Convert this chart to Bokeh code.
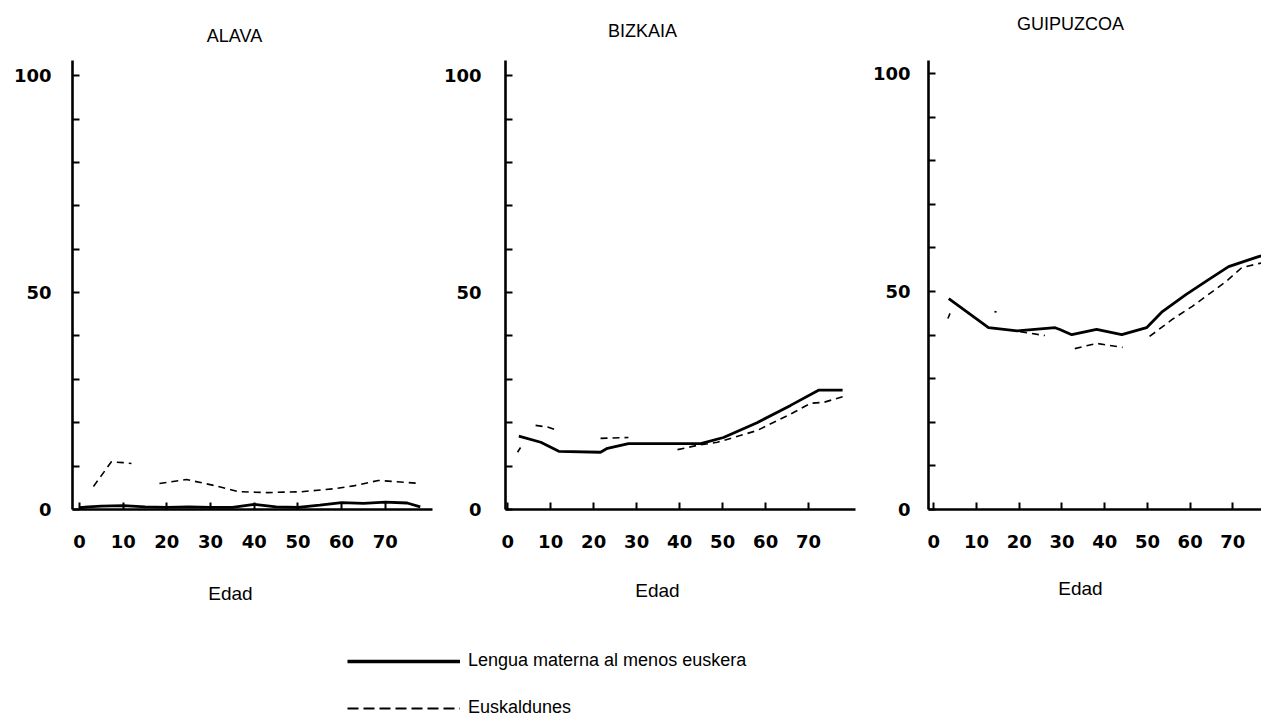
from bokeh.plotting import figure
from bokeh.layouts import row, column
from bokeh.models import FixedTicker, Label, Legend, LegendItem, Range1d
from bokeh.embed import file_html
from bokeh.resources import INLINE

NaN = float("nan")

panel_titles = ["ALAVA", "BIZKAIA", "GUIPUZCOA"]
x_label = "Edad"
legend_labels = ["Lengua materna al menos euskera", "Euskaldunes"]
x_ticks = [0, 10, 20, 30, 40, 50, 60, 70]
y_ticks = [0, 10, 20, 30, 40, 50, 60, 70, 80, 90, 100]
y_labelled = [0, 50, 100]

# ALAVA
alava_materna_x = [0, 2, 5, 10, 15, 20, 25, 30, 35, 40, 45, 50, 55, 60, 65, 70, 75, 78]
alava_materna_y = [0.4, 0.6, 0.8, 0.9, 0.6, 0.5, 0.6, 0.5, 0.5, 1.2, 0.6, 0.5, 1.0, 1.6, 1.4, 1.7, 1.5, 0.6]
alava_eusk_x = [3.2, 7.3, 10.0, 11.9, NaN, 18.3, 24.5, 31.0, 36.4, 43.0, 50.8, 58.4, 63.0, 68.4, 78.0]
alava_eusk_y = [5.3, 11.0, 10.8, 10.6, NaN, 6.0, 6.9, 5.5, 4.1, 3.9, 4.1, 4.8, 5.5, 6.7, 6.0]

# BIZKAIA
bizkaia_materna_x = [2.6, 7.7, 11.9, 21.6, 23.2, 28.1, 44.9, 50.2, 58.0, 65.8, 72.3, 77.9]
bizkaia_materna_y = [16.9, 15.5, 13.4, 13.2, 14.1, 15.2, 15.2, 16.6, 20.0, 24.0, 27.5, 27.5]
bizkaia_eusk_x = [2.3, 3.0, NaN, 6.5, 9.3, 11.6, NaN, 21.6, 28.1, NaN, 39.5, 44.2, 48.8, 58.0, 65.8, 70.5, 73.5, 77.9]
bizkaia_eusk_y = [13.2, 14.3, NaN, 19.4, 19.0, 18.2, NaN, 16.4, 16.6, NaN, 13.8, 14.8, 15.5, 18.2, 22.0, 24.5, 24.7, 26.0]

# GUIPUZCOA
guipuzcoa_materna_x = [3.5, 12.8, 19.5, 28.4, 29.5, 32.3, 38.1, 44.0, 49.8, 53.5, 59.0, 64.4, 69.0, 76.0, 78.0]
guipuzcoa_materna_y = [48.4, 41.7, 41.0, 41.7, 41.3, 40.1, 41.3, 40.1, 41.7, 45.4, 49.3, 52.8, 55.7, 58.0, 58.5]
guipuzcoa_eusk_x = [3.3, 3.8, NaN, 14.2, 14.7, NaN, 20.2, 26.0, NaN, 33.0, 38.1, 44.2, NaN, 50.5, 55.8, 60.5, 68.4, 72.1, 76.0, 78.0]
guipuzcoa_eusk_y = [43.8, 45.0, NaN, 45.4, 45.3, NaN, 40.8, 39.9, NaN, 36.9, 38.1, 37.2, NaN, 39.7, 43.6, 46.6, 52.3, 55.5, 56.4, 56.8]

series = [
    (alava_materna_x, alava_materna_y, alava_eusk_x, alava_eusk_y),
    (bizkaia_materna_x, bizkaia_materna_y, bizkaia_eusk_x, bizkaia_eusk_y),
    (guipuzcoa_materna_x, guipuzcoa_materna_y, guipuzcoa_eusk_x, guipuzcoa_eusk_y),
]

# page geometry (pixels)
W = 1261
HEAD_H = 60
PANEL_H = 499
FOOT_H = 160
BOTTOM = 50

specs = [
    dict(left=72, frame_w=360, right=8, xr=(-1.6, 80.8), yr=(0, 103.5), ystand=21,
         title_px=(234, 35), xlab_px=(230, 34)),
    dict(left=65, frame_w=350, right=8, xr=(-0.5, 80.9), yr=(0, 103.5), ystand=24,
         title_px=(642, 30), xlab_px=(657, 31)),
    dict(left=65, frame_w=333, right=0, xr=(-1.24, 76.7), yr=(0, 103.0), ystand=18,
         title_px=(1070, 23), xlab_px=(1080, 29)),
]

TXT = "Liberation Sans"
NUM = "DejaVu Sans"


def blank(height):
    f = figure(width=W, height=height, output_backend="svg", toolbar_location=None,
               title=None, x_range=Range1d(0, W), y_range=Range1d(height, 0),
               min_border_left=0, min_border_right=0, min_border_top=0, min_border_bottom=0)
    f.axis.visible = False
    f.grid.visible = False
    f.outline_line_color = None
    f.background_fill_color = "white"
    f.border_fill_color = "white"
    return f


head = blank(HEAD_H)
foot = blank(FOOT_H)

figs = []
for name, (mx, my, ex, ey), s in zip(panel_titles, series, specs):
    w = s["left"] + s["frame_w"] + s["right"]
    p = figure(width=w, height=PANEL_H, output_backend="svg", toolbar_location=None, title=None,
               x_range=Range1d(*s["xr"]), y_range=Range1d(*s["yr"]),
               min_border_left=s["left"], min_border_right=s["right"],
               min_border_top=0, min_border_bottom=BOTTOM)
    p.outline_line_color = None
    p.grid.visible = False
    p.background_fill_color = "white"
    p.border_fill_color = "white"

    p.xaxis.ticker = FixedTicker(ticks=x_ticks)
    p.yaxis.ticker = FixedTicker(ticks=y_ticks)
    p.yaxis.major_label_overrides = {t: ("" if t not in y_labelled else str(t)) for t in y_ticks}
    for ax in (p.xaxis, p.yaxis):
        ax.axis_line_width = 2.6
        ax.axis_line_color = "black"
        ax.major_tick_line_width = 2
        ax.major_tick_line_color = "black"
        ax.major_tick_in = 7
        ax.major_tick_out = 0
        ax.minor_tick_line_color = None
        ax.major_label_text_font = NUM
        ax.major_label_text_font_size = "18px"
        ax.major_label_text_font_style = "bold"
        ax.major_label_text_color = "black"
    p.xaxis.major_label_standoff = 25
    p.yaxis.major_label_standoff = s["ystand"]

    p.line(ex, ey, line_color="black", line_width=1.6, line_dash="7 5")
    p.line(mx, my, line_color="black", line_width=2.8)
    figs.append(p)

    tx, ty = s["title_px"]
    head.add_layout(Label(x=tx, y=ty, text=name, text_align="center", text_baseline="middle",
                          text_font=TXT, text_font_size="18px", text_color="black"))
    lx, ly = s["xlab_px"]
    foot.add_layout(Label(x=lx, y=ly, text=x_label, text_align="center", text_baseline="middle",
                          text_font=TXT, text_font_size="19px", text_color="black"))

r1 = foot.line([NaN], [NaN], line_color="black", line_width=3.5)
r2 = foot.line([NaN], [NaN], line_color="black", line_width=1.8, line_dash="11 5")
legend = Legend(items=[LegendItem(label=legend_labels[0], renderers=[r1]),
                       LegendItem(label=legend_labels[1], renderers=[r2])],
                location=(347, 1), orientation="vertical",
                glyph_width=113, glyph_height=16, label_height=16, spacing=26,
                label_standoff=8, padding=0, margin=0,
                border_line_color=None, background_fill_alpha=0,
                label_text_font=TXT, label_text_font_size="18px", label_text_color="black")
foot.add_layout(legend, "center")

layout = column(head, row(*figs), foot)
open("out.html", "w").write(file_html(layout, INLINE))
